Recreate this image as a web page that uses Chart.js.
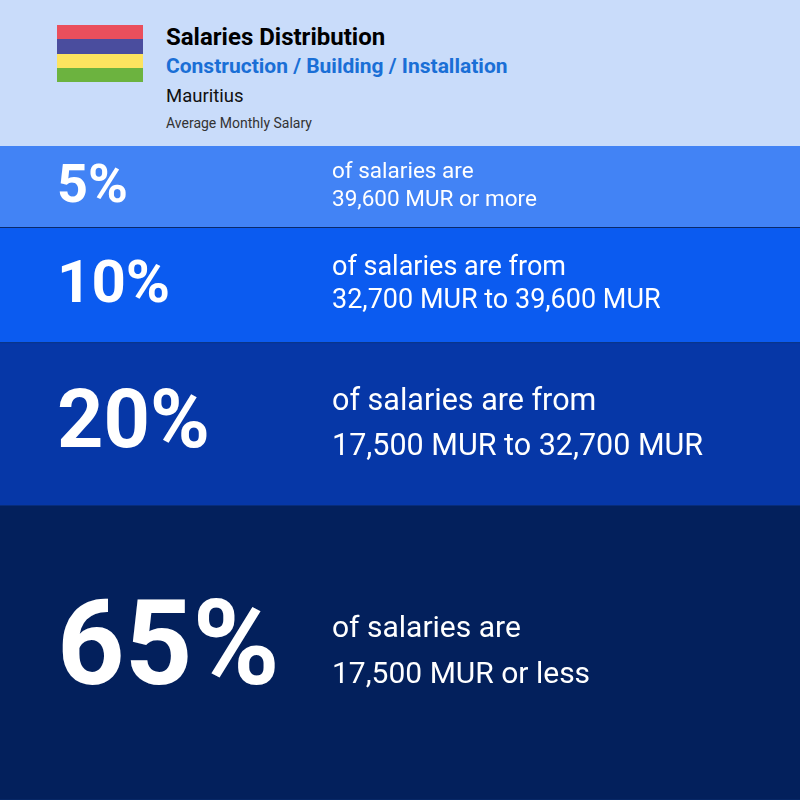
<!DOCTYPE html>
<html>
<head>
<meta charset="utf-8">
<script src="https://cdn.jsdelivr.net/npm/chart.js@4"></script>
<style>
  body { margin: 0; width: 800px; height: 800px; overflow: hidden; font-family: Roboto, sans-serif; background: #03205c; }
  #head { position: absolute; left: 0; top: 0; width: 800px; height: 146px; background: #c9dcfa; }
  .flag { position: absolute; left: 57px; top: 25px; width: 86px; }
  .flag div { height: 14.25px; }
  .t { position: absolute; left: 166px; white-space: nowrap; }
  #wrap { position: absolute; left: 0; top: 146px; width: 800px; height: 654px; }
</style>
</head>
<body>
<div id="head">
  <div class="flag">
    <div style="background:#ea4f5c"></div>
    <div style="background:#4a4d9e"></div>
    <div style="background:#fde35f"></div>
    <div style="background:#6cb33f"></div>
  </div>
  <div class="t" style="top:23px;font-size:24px;font-weight:bold;color:#000">Salaries Distribution</div>
  <div class="t" style="top:54px;font-size:21px;font-weight:bold;color:#1a6fd6">Construction / Building / Installation</div>
  <div class="t" style="top:85px;font-size:18.5px;color:#111">Mauritius</div>
  <div class="t" style="top:115px;font-size:14px;color:#333">Average Monthly Salary</div>
</div>
<div id="wrap"><canvas id="chart"></canvas></div>
<script>
// Data
var shares = [5, 10, 20, 65];
var line1 = ['of salaries are', 'of salaries are from', 'of salaries are from', 'of salaries are'];
var line2 = ['39,600 MUR or more', '32,700 MUR to 39,600 MUR', '17,500 MUR to 32,700 MUR', '17,500 MUR or less'];
var colors = ['#4283f5', '#0b5bf0', '#0637a7', '#03205c'];

var pctSize = [54, 60, 81, 118];
var txtSize = [22.5, 27, 30.5, 30];
var lineGap = [14, 16.5, 22.5, 23];

var labelPlugin = {
    id: 'bandLabels',
    afterDatasetsDraw: function (chart) {
        var ctx = chart.ctx;
        ctx.save();
        ctx.fillStyle = '#ffffff';
        ctx.textBaseline = 'middle';
        chart.data.datasets.forEach(function (ds, i) {
            var bar = chart.getDatasetMeta(i).data[0];
            var props = bar.getProps(['y', 'base'], true);
            var cy = (props.y + props.base) / 2;
            ctx.font = 'bold ' + pctSize[i] + 'px Roboto';
            ctx.fillText(shares[i] + '%', 57, cy + 2);
            ctx.font = txtSize[i] + 'px Roboto';
            ctx.fillText(line1[i], 332, cy - lineGap[i]);
            ctx.fillText(line2[i], 332, cy + lineGap[i]);
        });
        ctx.restore();
    }
};

new Chart(document.getElementById('chart'), {
    type: 'bar',
    data: {
        labels: ['share'],
        datasets: shares.map(function (s, i) {
            return {
                label: s + '%',
                data: [Math.sqrt(s)],
                backgroundColor: colors[i],
                borderColor: '#0a2a6a',
                borderWidth: { top: 0, bottom: 1, left: 0, right: 0 },
                barPercentage: 1,
                categoryPercentage: 1
            };
        })
    },
    options: {
        responsive: true,
        maintainAspectRatio: false,
        animation: false,
        layout: { padding: 0 },
        plugins: { legend: { display: false }, tooltip: { enabled: false } },
        scales: {
            x: { display: false, stacked: true },
            y: {
                display: false, stacked: true, reverse: true, min: 0,
                max: shares.reduce(function (a, s) { return a + Math.sqrt(s); }, 0)
            }
        }
    },
    plugins: [labelPlugin]
});
</script>
</body>
</html>
